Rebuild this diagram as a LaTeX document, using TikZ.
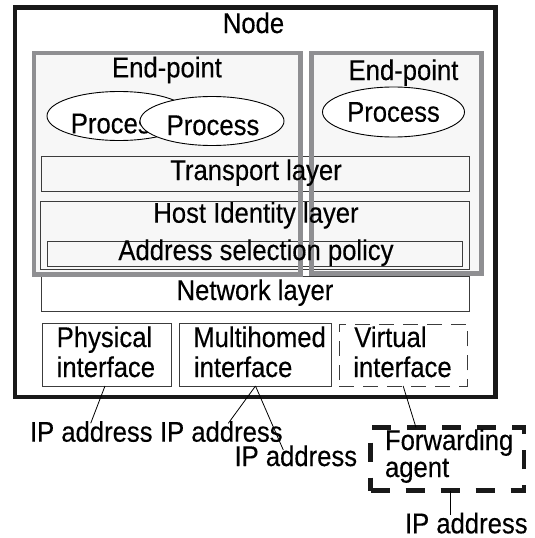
\documentclass[tikz,border=0pt]{standalone}
\usepackage{fontspec}
\setmainfont{Liberation Sans}[FakeStretch=0.9,FakeBold=0.3]
\usetikzlibrary{shapes.geometric}
\definecolor{epgray}{RGB}{143,143,146}
\definecolor{epfill}{RGB}{247,247,247}
\definecolor{laycol}{RGB}{60,60,60}
\begin{document}
\begin{tikzpicture}[x=1pt,y=-1pt,
  txt/.style={inner sep=0pt, outer sep=0pt, font=\fontsize{28.5}{30}\selectfont},
  boxn/.style={rectangle, inner sep=0pt, outer sep=0pt},
  lay/.style={boxn, draw=laycol, line width=1pt},
  proc/.style={ellipse, draw=black, line width=0.9pt, fill=white, inner sep=0pt,
               minimum width=144pt, minimum height=49pt},
  epborder/.style={draw=epgray, line width=4.5pt},
  conn/.style={draw=black, line width=0.8pt}]
\useasboundingbox (0,0) rectangle (535,538);

% outer node box
\node[boxn, draw=black!90, line width=4.5pt, fill=white,
      minimum width=480.5pt, minimum height=389.5pt] (outer) at (255.25,202.25) {};
\node[txt, anchor=base] (nodelbl) at (253.5,33) {Node};

% end-point boxes (fill)
\node[boxn, fill=epfill, minimum width=266.5pt, minimum height=221.5pt] (epL) at (167.25,163.75) {};
\node[boxn, fill=epfill, minimum width=170pt, minimum height=220.5pt] (epR) at (396.5,163.25) {};

% processes
\node[proc] (p1) at (119,116) {};
\node[txt, anchor=base] (p1t) at (117.2,133.3) {Process};
\node[proc] (p2) at (212,121) {};
\node[txt, anchor=base] (p2t) at (213,135) {Process};
\node[proc, minimum width=142pt, minimum height=50pt] (p3) at (393.5,112) {};
\node[txt, anchor=base] (p3t) at (393.5,121.7) {Process};

% layers
\node[lay, minimum width=427.7pt, minimum height=35pt] (transport) at (255.15,174.2) {};
\node[lay, minimum width=428.3pt, minimum height=67.6pt] (hip) at (254.85,235.5) {};
\node[lay, minimum width=414.6pt, minimum height=24.3pt] (asp) at (255,253.85) {};
\node[lay, fill=white, minimum width=427.7pt, minimum height=35pt] (network) at (255.15,294.2) {};

% end-point borders on top
\draw[epborder] (epL.north west) rectangle (epL.south east);
\draw[epborder] (epR.north west) rectangle (epR.south east);

% texts
\node[txt, anchor=base] (ep1t) at (167,77.3) {End-point};
\node[txt, anchor=base] (ep2t) at (403.5,80) {End-point};
\node[txt, anchor=base] (transt) at (256,180) {Transport layer};
\node[txt, anchor=base] (hipt) at (256,222.7) {Host Identity layer};
\node[txt, anchor=base] (aspt) at (256,260) {Address selection policy};
\node[txt, anchor=base] (nett) at (255,300) {Network layer};

% interfaces
\node[lay, minimum width=129pt, minimum height=62.7pt] (phys) at (106.5,354.65) {};
\node[txt, anchor=base west] (physa) at (56.7,347) {Physical};
\node[txt, anchor=base west] (physb) at (56.7,377) {interface};
\node[lay, minimum width=152.4pt, minimum height=62.7pt] (multi) at (255.5,354.65) {};
\node[txt, anchor=base west] (multia) at (193.3,347) {Multihomed};
\node[txt, anchor=base west] (multib) at (194,377) {interface};
\node[lay, dash pattern=on 15pt off 9pt, line width=0.9pt,
      minimum width=128.3pt, minimum height=62pt] (virt) at (403.15,355) {};
\node[txt, anchor=base west] (virta) at (354.3,347) {Virtual};
\node[txt, anchor=base west] (virtb) at (353.3,377) {interface};

% forwarding agent
\node[boxn, draw=black!90, line width=4.5pt, dash pattern=on 19pt off 16pt,
      minimum width=153.5pt, minimum height=63pt] (fwd) at (447.25,459) {};
\node[txt, anchor=base west] (fwda) at (385,450) {Forwarding};
\node[txt, anchor=base west] (fwdb) at (385,477) {agent};

% IP address labels
\node[txt, anchor=base west] (ip1) at (30,441.7) {IP address};
\node[txt, anchor=base west] (ip2) at (160,441.7) {IP address};
\node[txt, anchor=base west] (ip3) at (234.5,466) {IP address};
\node[txt, anchor=base west] (ip4) at (405,533.3) {IP address};

% connector ends
\coordinate (e1) at (90.7,423.3);
\coordinate (e2) at (228.3,423.3);
\coordinate (e3) at (283.3,450);
\coordinate (e4) at (450,515);

\draw[conn] ([xshift=-1.5pt]phys.south) -- (e1);
\draw[conn] (multi.south) -- (e2);
\draw[conn] (multi.south) -- (e3);
\draw[conn] (virt.south) -- ([xshift=-31.25pt]fwd.north);
\draw[conn] ([xshift=2.75pt]fwd.south) -- (e4);
\end{tikzpicture}
\end{document}
